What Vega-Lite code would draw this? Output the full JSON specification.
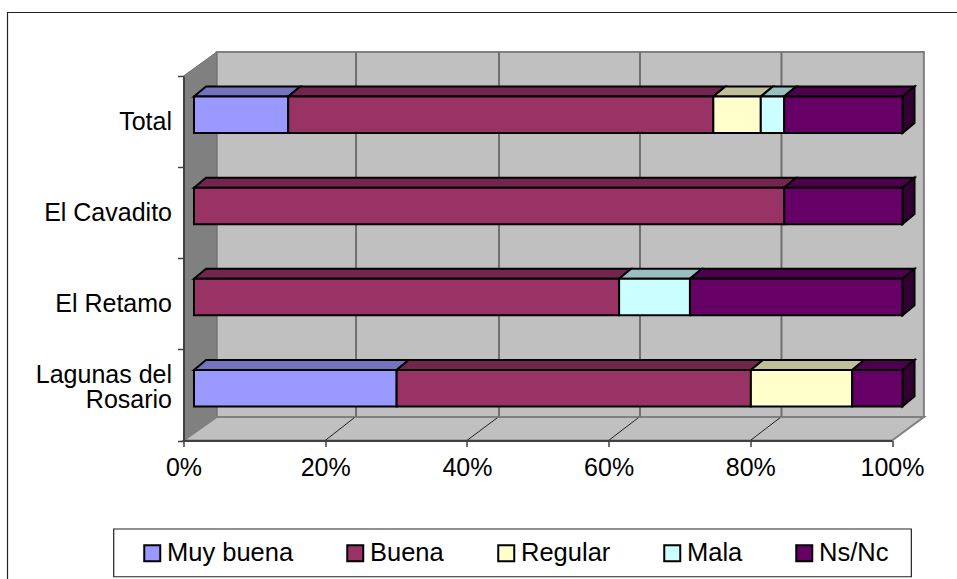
{
"$schema":"https://vega.github.io/schema/vega-lite/v6.json",
"width":708.5,"height":364.5,
"autosize":"none",
"padding":{"left":183.5,"top":76,"right":65,"bottom":138.5},
"background":"white",
"config":{"view":{"stroke":null},"font":"Liberation Sans"},
"datasets":{
"table":[
{"cat":"Total","series":"Muy buena","n":1,"value":13.3},
{"cat":"Total","series":"Buena","n":2,"value":60},
{"cat":"Total","series":"Regular","n":3,"value":6.7},
{"cat":"Total","series":"Mala","n":4,"value":3.3},
{"cat":"Total","series":"Ns/Nc","n":5,"value":16.7},
{"cat":"El Cavadito","series":"Buena","n":2,"value":83.3},
{"cat":"El Cavadito","series":"Ns/Nc","n":5,"value":16.7},
{"cat":"El Retamo","series":"Buena","n":2,"value":60},
{"cat":"El Retamo","series":"Mala","n":4,"value":10},
{"cat":"El Retamo","series":"Ns/Nc","n":5,"value":30},
{"cat":"Lagunas del Rosario","series":"Muy buena","n":1,"value":28.6},
{"cat":"Lagunas del Rosario","series":"Buena","n":2,"value":50},
{"cat":"Lagunas del Rosario","series":"Regular","n":3,"value":14.3},
{"cat":"Lagunas del Rosario","series":"Ns/Nc","n":5,"value":7.1}
],
"tops":[
{"id":"t1","series":"Muy buena","a":1.48,"b":14.78,"y":3.774},{"id":"t1","series":"Muy buena","a":3.18,"b":16.48,"y":3.884},
{"id":"t2","series":"Buena","a":14.78,"b":74.78,"y":3.774},{"id":"t2","series":"Buena","a":16.48,"b":76.48,"y":3.884},
{"id":"t3","series":"Regular","a":74.78,"b":81.48,"y":3.774},{"id":"t3","series":"Regular","a":76.48,"b":83.18,"y":3.884},
{"id":"t4","series":"Mala","a":81.48,"b":84.78,"y":3.774},{"id":"t4","series":"Mala","a":83.18,"b":86.48,"y":3.884},
{"id":"t5","series":"Ns/Nc","a":84.78,"b":101.48,"y":3.774},{"id":"t5","series":"Ns/Nc","a":86.48,"b":103.18,"y":3.884},
{"id":"c2","series":"Buena","a":1.48,"b":84.78,"y":2.774},{"id":"c2","series":"Buena","a":3.18,"b":86.48,"y":2.884},
{"id":"c5","series":"Ns/Nc","a":84.78,"b":101.48,"y":2.774},{"id":"c5","series":"Ns/Nc","a":86.48,"b":103.18,"y":2.884},
{"id":"r2","series":"Buena","a":1.48,"b":61.48,"y":1.774},{"id":"r2","series":"Buena","a":3.18,"b":63.18,"y":1.884},
{"id":"r4","series":"Mala","a":61.48,"b":71.48,"y":1.774},{"id":"r4","series":"Mala","a":63.18,"b":73.18,"y":1.884},
{"id":"r5","series":"Ns/Nc","a":71.48,"b":101.48,"y":1.774},{"id":"r5","series":"Ns/Nc","a":73.18,"b":103.18,"y":1.884},
{"id":"l1","series":"Muy buena","a":1.48,"b":30.08,"y":0.774},{"id":"l1","series":"Muy buena","a":3.18,"b":31.78,"y":0.884},
{"id":"l2","series":"Buena","a":30.08,"b":80.08,"y":0.774},{"id":"l2","series":"Buena","a":31.78,"b":81.78,"y":0.884},
{"id":"l3","series":"Regular","a":80.08,"b":94.38,"y":0.774},{"id":"l3","series":"Regular","a":81.78,"b":96.08,"y":0.884},
{"id":"l5","series":"Ns/Nc","a":94.38,"b":101.48,"y":0.774},{"id":"l5","series":"Ns/Nc","a":96.08,"b":103.18,"y":0.884}
],
"ends":[
{"id":"Total","x":101.48,"y":3.774,"y2":3.374},{"id":"Total","x":103.18,"y":3.884,"y2":3.484},
{"id":"El Cavadito","x":101.48,"y":2.774,"y2":2.374},{"id":"El Cavadito","x":103.18,"y":2.884,"y2":2.484},
{"id":"El Retamo","x":101.48,"y":1.774,"y2":1.374},{"id":"El Retamo","x":103.18,"y":1.884,"y2":1.484},
{"id":"Lagunas del Rosario","x":101.48,"y":0.774,"y2":0.374},{"id":"Lagunas del Rosario","x":103.18,"y":0.884,"y2":0.484}
],
"panels":[
{"name":"frame","x":-24.84,"x2":115,"y":4.697,"y2":-3},
{"name":"legend","x":-9.85,"x2":102.73,"y":-0.971,"y2":-1.495}
],
"side":[{"x":0,"y":0,"y2":4},{"x":4.686,"y":0.258,"y2":4.263}],
"floor":[{"a":0,"b":100,"y":0},{"a":4.686,"b":104.5,"y":0.258}],
"back":[{"x":4.686,"x2":104.5,"y":0.258,"y2":4.263}],
"grid":[{"x":24.35},{"x":44.53},{"x":64.43},{"x":84.4}],
"diag":[{"x":20,"x2":24.1},{"x":40,"x2":44.3},{"x":60,"x2":64.2},{"x":80,"x2":84.2}]
},
"layer":[
{"data":{"name":"panels"},"mark":{"type":"rect","fill":"white","stroke":"#222222","strokeWidth":1.2},
 "encoding":{"x":{"field":"x","type":"quantitative","scale":{"domain":[0,100]},
   "axis":{"values":[0,20,40,60,80,100],"labelExpr":"datum.value+'%'","title":null,"grid":false,"zindex":1,"domainColor":"#404040","domainWidth":2,"tickColor":"#404040","tickWidth":1.5,"tickSize":6,"labelFontSize":25,"labelColor":"black","labelPadding":9,"labelFlush":false,"labelFont":"Liberation Sans"}},
  "x2":{"field":"x2"},
  "y":{"field":"y","type":"quantitative","scale":{"domain":[0,4]},"axis":null},"y2":{"field":"y2"}}},
{"data":{"name":"back"},"mark":{"type":"rect","fill":"#C0C0C0","stroke":"#808080","strokeWidth":2},
 "encoding":{"x":{"field":"x","type":"quantitative"},"x2":{"field":"x2"},
  "y":{"field":"y","type":"quantitative","scale":{"domain":[0,4]},"axis":null},"y2":{"field":"y2"}}},
{"data":{"name":"side"},"mark":{"type":"area","fill":"#808080","stroke":"#707070","strokeWidth":1},
 "encoding":{"x":{"field":"x","type":"quantitative"},
  "y":{"field":"y","type":"quantitative","scale":{"domain":[0,4]},"axis":null},"y2":{"field":"y2"}}},
{"data":{"name":"floor"},"mark":{"type":"area","orient":"horizontal","fill":"#C0C0C0","stroke":"#808080","strokeWidth":2},
 "encoding":{"x":{"field":"a","type":"quantitative"},"x2":{"field":"b"},
  "y":{"field":"y","type":"quantitative","scale":{"domain":[0,4]},"axis":null}}},
{"data":{"name":"grid"},"mark":{"type":"rule","color":"#707070","strokeWidth":2},
 "encoding":{"x":{"field":"x","type":"quantitative"},
  "y":{"datum":0.258,"type":"quantitative","scale":{"domain":[0,4]},"axis":null},"y2":{"datum":4.263}}},
{"data":{"name":"diag"},"mark":{"type":"rule","color":"#222222","strokeWidth":1},
 "encoding":{"x":{"field":"x","type":"quantitative"},"x2":{"field":"x2"},
  "y":{"datum":0,"type":"quantitative","scale":{"domain":[0,4]},"axis":null},"y2":{"datum":0.25}}},
{"data":{"name":"tops"},"mark":{"type":"area","orient":"horizontal","stroke":"black","strokeWidth":2},
 "encoding":{"x":{"field":"a","type":"quantitative"},"x2":{"field":"b"},
  "y":{"field":"y","type":"quantitative","scale":{"domain":[0,4]},"axis":null},
  "detail":{"field":"id"},
  "color":{"field":"series","type":"nominal","legend":null,"scale":{"domain":["Muy buena","Buena","Regular","Mala","Ns/Nc"],"range":["#7373BF","#73264D","#BFBF99","#99BFBF","#4D004D"]}}}},
{"data":{"name":"ends"},"mark":{"type":"area","fill":"#330033","stroke":"black","strokeWidth":2},
 "encoding":{"x":{"field":"x","type":"quantitative"},
  "y":{"field":"y","type":"quantitative","scale":{"domain":[0,4]},"axis":null},"y2":{"field":"y2"},
  "detail":{"field":"id"}}},
{"data":{"name":"table"},"mark":{"type":"bar","size":36.5,"xOffset":10.5,"x2Offset":10.5,"yOffset":-6.7,"stroke":"black","strokeWidth":2},
 "encoding":{"x":{"field":"value","type":"quantitative","stack":"zero"},
  "y":{"field":"cat","type":"nominal","sort":["Total","El Cavadito","El Retamo","Lagunas del Rosario"],"scale":{"padding":0},
   "axis":{"title":null,"tickBand":"extent","zindex":1,"domainColor":"#404040","domainWidth":2,"tickColor":"#404040","tickWidth":1.5,"tickSize":6,"labelFontSize":25,"labelColor":"black","labelPadding":6,"labelLimit":180,"labelLineHeight":25,"labelFont":"Liberation Sans","labelOffset":{"condition":{"test":"datum.value=='Lagunas del Rosario'","value":-20},"value":0},"labelExpr":"datum.value=='Lagunas del Rosario'?['Lagunas del','Rosario']:datum.label"}},
  "order":{"field":"n"},
  "color":{"field":"series","type":"nominal","scale":{"domain":["Muy buena","Buena","Regular","Mala","Ns/Nc"],"range":["#9999FF","#993366","#FFFFCC","#CCFFFF","#660066"]},
   "legend":{"title":null,"orient":"none","legendX":-44,"legendY":464,"direction":"horizontal","columns":5,"columnPadding":49,"padding":0,"symbolType":"square","symbolSize":256,"symbolStrokeColor":"black","symbolStrokeWidth":2,"labelFontSize":25.5,"labelOffset":2,"labelColor":"black","labelFont":"Liberation Sans","labelLimit":200}}}}
],
"resolve":{"scale":{"y":"independent","color":"independent"}}
}
